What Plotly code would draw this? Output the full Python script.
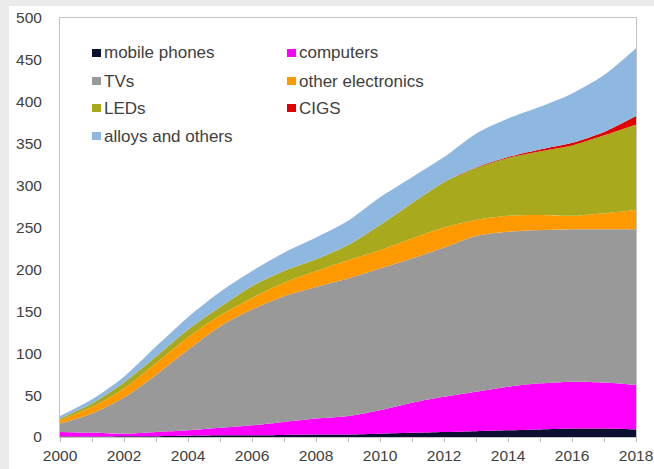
import plotly.graph_objects as go

years = list(range(2000, 2019))

mobile_phones = [0.5, 0.5, 1, 1, 1.5, 2, 2, 2.5, 3, 3, 4, 5, 6, 7, 8, 9, 10, 10, 9]
computers = [5.5, 4.5, 3, 5, 6.5, 9, 12, 15.5, 19, 22, 28, 36, 42, 47, 52, 55, 56, 55, 53]
tvs = [10, 23, 43, 68, 96, 121, 138, 150, 157, 164, 169, 172, 178, 186, 185, 183, 182, 183, 186]
other_electronics = [4, 8, 11, 14, 15, 13, 14, 16, 19, 22, 22, 24, 24, 19, 19, 18, 16, 19, 23]
leds = [2, 4, 7, 8, 9, 10, 14, 14, 14, 18, 30, 42, 54, 62, 69, 76, 84, 93, 102]
cigs = [0, 0, 0, 0, 0, 0, 0, 0, 0, 0, 0, 0, 0, 0.5, 1, 2, 3, 4, 10]
alloys_and_others = [3, 5, 7, 12, 15, 18, 18, 22, 26, 29, 33, 31, 30, 40.5, 46, 51, 59, 68, 81]

series_names = ["mobile phones", "computers", "TVs", "other electronics",
                "LEDs", "CIGS", "alloys and others"]
series_values = [mobile_phones, computers, tvs, other_electronics,
                 leds, cigs, alloys_and_others]
series_colors = ["#0b1030", "#ff00ff", "#999999", "#ff9900",
                 "#a9a91d", "#e00000", "#8fb8e0"]

x_tick_vals = years
x_tick_text = [str(y) if y % 2 == 0 else "" for y in years]
y_tick_vals = list(range(0, 501, 50))

fig = go.Figure()
for name, vals, col in zip(series_names, series_values, series_colors):
    fig.add_trace(go.Scatter(
        x=years, y=vals, name=name, stackgroup="one",
        mode="lines", line=dict(width=0, shape="spline", smoothing=0.8, color=col),
        fillcolor=col, showlegend=False,
    ))

W, H = 654, 469
L, R, T, B = 60, 18, 18, 32
pw, ph = W - L - R, H - T - B


def px(x):
    return (x - L) / pw


def py(y):
    return (H - B - y) / ph


shapes = []
annotations = []
# light gray frame of the screenshot
shapes.append(dict(type="rect", xref="paper", yref="paper", x0=px(0), x1=px(W),
                   y0=py(0), y1=py(6), fillcolor="#ebebeb", line=dict(width=0), layer="below"))
shapes.append(dict(type="rect", xref="paper", yref="paper", x0=px(0), x1=px(9),
                   y0=py(H), y1=py(0), fillcolor="#ebebeb", line=dict(width=0), layer="below"))

# legend (two columns)
col_x = [92, 287]
row_y = [53, 81, 108, 136]
for i, (name, col) in enumerate(zip(series_names, series_colors)):
    cx = col_x[i % 2]
    cy = row_y[i // 2]
    shapes.append(dict(type="rect", xref="paper", yref="paper",
                       x0=px(cx), x1=px(cx + 9), y0=py(cy + 4), y1=py(cy - 4),
                       fillcolor=col, line=dict(width=0)))
    annotations.append(dict(xref="paper", yref="paper", x=px(cx + 10), y=py(cy),
                            xanchor="left", yanchor="middle", showarrow=False,
                            text=name, font=dict(size=17, color="#404040")))

fig.update_layout(
    width=W, height=H,
    margin=dict(l=L, r=R, t=T, b=B, autoexpand=False),
    paper_bgcolor="white", plot_bgcolor="white",
    font=dict(family="Liberation Sans, Arial, sans-serif", color="#404040", size=15.5),
    showlegend=False,
    shapes=shapes, annotations=annotations,
    xaxis=dict(range=[2000, 2018], tickvals=x_tick_vals, ticktext=x_tick_text,
               ticks="outside", ticklen=4, tickcolor="#bfbfbf",
               showline=True, mirror=True, linecolor="#c4c4c4", linewidth=1,
               showgrid=False, zeroline=False, automargin=False),
    yaxis=dict(range=[0, 500], tickvals=y_tick_vals,
               ticks="", ticklabelstandoff=14,
               showline=True, mirror=True, linecolor="#c4c4c4", linewidth=1,
               showgrid=False, zeroline=False, automargin=False),
)

fig.write_html("out.html", config={"displayModeBar": False},
               post_script="document.body.style.margin='0';document.body.style.overflow='hidden';")
